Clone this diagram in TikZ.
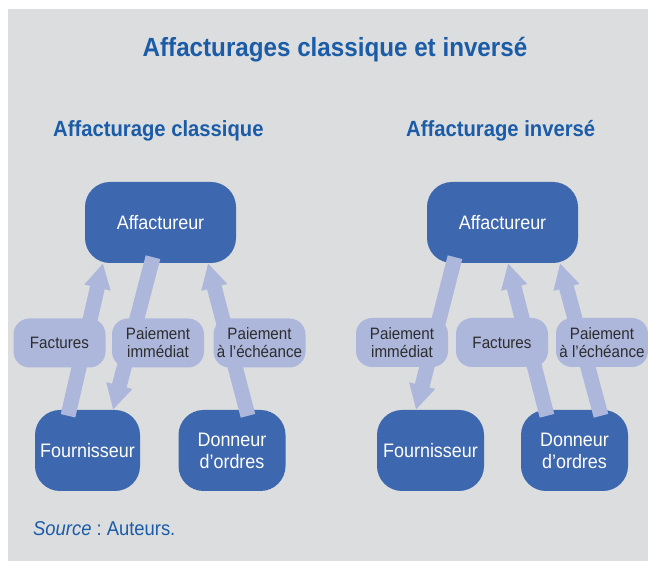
\documentclass[tikz,border=0pt]{standalone}
\usepackage{fontspec}
\setmainfont{Liberation Sans}[FakeStretch=0.92]
\usepackage{tikz}
\usetikzlibrary{arrows.meta}
\frenchspacing
\definecolor{FondGris}{HTML}{DCDDDF}
\definecolor{ActeurBleu}{HTML}{3D67AE}
\definecolor{FluxBleu}{HTML}{ADB7DC}
\definecolor{TitreBleu}{HTML}{1A5CA8}
\definecolor{TexteGris}{HTML}{2D2D2D}
\tikzstyle{titre} = [text=TitreBleu, font=\bfseries\fontsize{26.3}{30}\selectfont, inner sep=0pt]
\tikzstyle{soustitre} = [text=TitreBleu, font=\bfseries\fontsize{22}{26}\selectfont, inner sep=0pt]
\tikzstyle{acteur} = [rectangle, rounded corners=25pt, fill=ActeurBleu, text=white,
  font=\fontsize{19.5}{22}\selectfont, align=center, minimum height=81pt, inner sep=0pt]
\tikzstyle{etiquette} = [rectangle, rounded corners=16pt, fill=FluxBleu, text=TexteGris,
  font=\fontsize{16.5}{18}\selectfont, align=center, minimum width=92pt, minimum height=49pt, inner sep=0pt]
\tikzstyle{flux} = [draw=FluxBleu, line width=15pt, -{Triangle[length=25pt,width=25pt]}]

\begin{document}
\begin{tikzpicture}[x=1pt,y=1pt]

	\useasboundingbox (0,0) rectangle (648,562);
	\fill[FondGris] (8,1) rectangle (648,553);

	% Titres
	\node (titre) [titre, anchor=base] at (335,505) {Affacturages classique et inversé};
	\node (classique) [soustitre, anchor=base west] at (53,425) {Affacturage classique};
	\node (inverse) [soustitre, anchor=base west] at (406,425) {Affacturage inversé};

	% Affacturage classique
	\node (affC) [acteur, minimum width=151pt] at (160.5,339.5) {Affactureur};
	\node (fourC) [acteur, minimum width=105pt] at (87.5,111.5) {Fournisseur};
	\node (donC) [acteur, minimum width=107pt] at (232,111.5) {Donneur\\d’ordres};

	\draw[flux] ([xshift=-19.5pt,yshift=-6pt]fourC.north) -- ([xshift=-57.5pt]affC.south);
	\draw[flux] ([xshift=-7.5pt,yshift=6pt]affC.south) -- ([xshift=25.5pt]fourC.north);
	\draw[flux] ([xshift=16pt,yshift=-6pt]donC.north) -- ([xshift=47.5pt]affC.south);

	\node (factC) [etiquette] at (59.5,219) {Factures};
	\node (immC) [etiquette] at (158,219) {Paiement\\immédiat};
	\node (echC) [etiquette] at (259.5,219) {Paiement\\à l’échéance};

	% Affacturage inverse
	\node (affI) [acteur, minimum width=151pt] at (502.5,339.5) {Affactureur};
	\node (fourI) [acteur, minimum width=107pt] at (430.5,111.5) {Fournisseur};
	\node (donI) [acteur, minimum width=107pt] at (574.5,111.5) {Donneur\\d’ordres};

	\draw[flux] ([xshift=-47.5pt,yshift=6pt]affI.south) -- ([xshift=-14.5pt]fourI.north);
	\draw[flux] ([xshift=-27.5pt,yshift=-6pt]donI.north) -- ([xshift=5.5pt]affI.south);
	\draw[flux] ([xshift=26.5pt,yshift=-6pt]donI.north) -- ([xshift=57.5pt]affI.south);

	\node (immI) [etiquette] at (402,219.5) {Paiement\\immédiat};
	\node (factI) [etiquette] at (502,219.5) {Factures};
	\node (echI) [etiquette] at (602,219.5) {Paiement\\à l’échéance};

	% Source
	\node (source) [anchor=base west, text=TitreBleu, font=\fontsize{20}{24}\selectfont, inner sep=0pt]
		at (33,26) {\textit{Source} : Auteurs.};

\end{tikzpicture}
\end{document}
